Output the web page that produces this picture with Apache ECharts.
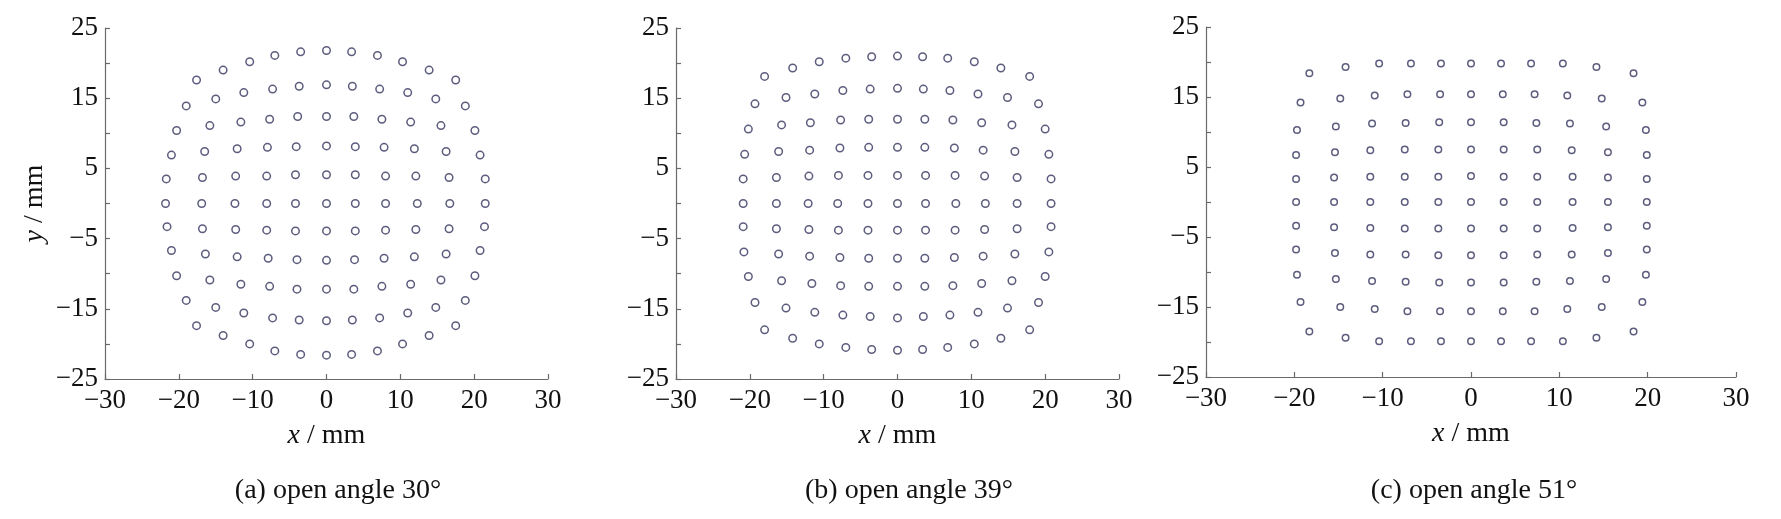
<!DOCTYPE html>
<html>
<head>
<meta charset="utf-8">
<script src="https://cdn.jsdelivr.net/npm/echarts@6/dist/echarts.min.js"></script>
<style>
html,body{margin:0;padding:0;background:#fff;}
#chart{width:1781px;height:519px;}
</style>
</head>
<body>
<div id="chart"></div>
<script>
// ---------- DATA (x, y in mm), read row by row from top to bottom ----------
const panelA_points = [
  [-17.6,17.6],[-14.0,19.0],[-10.4,20.2],[-7.0,21.1],[-3.5,21.6],[0,21.8],[3.4,21.6],[6.9,21.1],[10.3,20.2],[13.9,19.0],[17.5,17.6],
  [-19.0,13.9],[-15.0,14.9],[-11.2,15.8],[-7.3,16.3],[-3.7,16.7],[0,16.9],[3.5,16.7],[7.2,16.3],[11.0,15.8],[14.8,14.9],[18.8,13.9],
  [-20.3,10.4],[-15.8,11.1],[-11.6,11.6],[-7.7,12.0],[-3.9,12.4],[0,12.4],[3.7,12.4],[7.5,12.0],[11.4,11.6],[15.5,11.1],[20.1,10.4],
  [-21.0,6.9],[-16.5,7.4],[-12.1,7.8],[-8.0,8.0],[-4.1,8.1],[0,8.2],[3.9,8.1],[7.8,8.0],[11.9,7.8],[16.2,7.4],[20.8,6.9],
  [-21.7,3.5],[-16.8,3.7],[-12.3,3.9],[-8.1,3.9],[-4.2,4.1],[0,4.1],[3.9,4.1],[8.0,3.9],[12.1,3.9],[16.6,3.7],[21.5,3.5],
  [-21.8,0],[-16.9,0],[-12.4,0],[-8.1,0],[-4.2,0],[0,0],[3.9,0],[8.0,0],[12.3,0],[16.7,0],[21.5,0],
  [-21.6,-3.3],[-16.8,-3.6],[-12.3,-3.7],[-8.1,-3.8],[-4.2,-3.9],[0,-3.9],[3.9,-3.9],[8.0,-3.8],[12.1,-3.7],[16.6,-3.6],[21.4,-3.3],
  [-21.0,-6.7],[-16.4,-7.2],[-12.1,-7.6],[-7.9,-7.8],[-4.0,-8.0],[0,-8.1],[3.8,-8.0],[7.8,-7.8],[11.9,-7.6],[16.2,-7.2],[20.8,-6.7],
  [-20.3,-10.3],[-15.8,-10.9],[-11.6,-11.5],[-7.7,-11.8],[-4.0,-12.2],[0,-12.2],[3.7,-12.2],[7.5,-11.8],[11.4,-11.5],[15.5,-10.9],[20.1,-10.3],
  [-19.0,-13.8],[-15.0,-14.8],[-11.2,-15.6],[-7.3,-16.3],[-3.7,-16.6],[0,-16.7],[3.5,-16.6],[7.2,-16.3],[11.0,-15.6],[14.8,-14.8],[18.8,-13.8],
  [-17.6,-17.4],[-14.0,-18.8],[-10.4,-20.0],[-7.0,-21.0],[-3.5,-21.5],[0,-21.6],[3.4,-21.5],[6.9,-21.0],[10.3,-20.0],[13.9,-18.8],[17.5,-17.4]
];
const panelB_points = [
  [-18.0,18.1],[-14.2,19.3],[-10.6,20.2],[-7.0,20.7],[-3.5,20.9],[0,21.0],[3.4,20.9],[6.8,20.7],[10.4,20.2],[14.0,19.3],[17.9,18.1],
  [-19.3,14.2],[-15.1,15.1],[-11.2,15.6],[-7.4,16.1],[-3.7,16.3],[0,16.4],[3.5,16.3],[7.1,16.1],[10.9,15.6],[14.9,15.1],[19.1,14.2],
  [-20.2,10.6],[-15.7,11.2],[-11.8,11.5],[-7.7,11.9],[-3.9,12.0],[0,12.0],[3.7,12.0],[7.5,11.9],[11.4,11.5],[15.5,11.2],[20.0,10.6],
  [-20.7,7.0],[-16.1,7.4],[-11.9,7.6],[-7.8,7.9],[-3.9,8.0],[0,8.0],[3.7,8.0],[7.7,7.9],[11.6,7.6],[15.9,7.4],[20.5,7.0],
  [-20.9,3.5],[-16.4,3.7],[-12.0,3.9],[-8.0,4.0],[-4.0,4.0],[0,4.0],[3.8,4.0],[7.8,4.0],[11.8,3.9],[16.2,3.7],[20.8,3.5],
  [-20.9,0],[-16.4,0],[-12.1,0],[-8.1,0],[-4.0,0],[0,0],[3.8,0],[7.9,0],[11.9,0],[16.2,0],[20.8,0],
  [-20.9,-3.3],[-16.4,-3.6],[-12.0,-3.7],[-8.0,-3.8],[-4.0,-3.8],[0,-3.8],[3.8,-3.8],[7.8,-3.8],[11.8,-3.7],[16.2,-3.6],[20.8,-3.3],
  [-20.8,-6.9],[-16.1,-7.2],[-11.9,-7.5],[-7.8,-7.7],[-3.9,-7.8],[0,-7.8],[3.7,-7.8],[7.7,-7.7],[11.6,-7.5],[15.9,-7.2],[20.5,-6.9],
  [-20.2,-10.4],[-15.7,-11.0],[-11.6,-11.4],[-7.7,-11.7],[-3.9,-11.8],[0,-11.8],[3.7,-11.8],[7.5,-11.7],[11.4,-11.4],[15.5,-11.0],[20.0,-10.4],
  [-19.3,-14.1],[-15.1,-14.9],[-11.2,-15.5],[-7.4,-15.9],[-3.7,-16.1],[0,-16.3],[3.5,-16.1],[7.1,-15.9],[10.9,-15.5],[14.9,-14.9],[19.1,-14.1],
  [-18.0,-18.0],[-14.2,-19.2],[-10.6,-20.0],[-7.0,-20.5],[-3.5,-20.8],[0,-20.9],[3.4,-20.8],[6.8,-20.5],[10.4,-20.0],[14.0,-19.2],[17.9,-18.0]
];
const panelC_points = [
  [-18.3,18.4],[-14.2,19.3],[-10.4,19.8],[-6.8,19.8],[-3.4,19.8],[0,19.8],[3.4,19.8],[6.8,19.8],[10.4,19.8],[14.2,19.3],[18.4,18.4],
  [-19.3,14.2],[-14.8,14.8],[-10.9,15.2],[-7.2,15.4],[-3.5,15.4],[0,15.4],[3.6,15.4],[7.2,15.4],[10.9,15.2],[14.8,14.8],[19.4,14.2],
  [-19.7,10.3],[-15.3,10.8],[-11.2,11.2],[-7.4,11.3],[-3.6,11.4],[0,11.4],[3.7,11.4],[7.4,11.3],[11.2,11.2],[15.3,10.8],[19.8,10.3],
  [-19.8,6.7],[-15.4,7.1],[-11.4,7.4],[-7.5,7.5],[-3.7,7.5],[0,7.5],[3.7,7.5],[7.5,7.5],[11.4,7.4],[15.5,7.1],[19.9,6.7],
  [-19.8,3.3],[-15.5,3.5],[-11.4,3.6],[-7.5,3.6],[-3.7,3.6],[0,3.7],[3.7,3.6],[7.5,3.6],[11.5,3.6],[15.5,3.5],[19.9,3.3],
  [-19.8,0],[-15.5,0],[-11.4,0],[-7.5,0],[-3.7,0],[0,0],[3.7,0],[7.5,0],[11.5,0],[15.5,0],[19.9,0],
  [-19.8,-3.4],[-15.5,-3.6],[-11.4,-3.7],[-7.5,-3.8],[-3.7,-3.8],[0,-3.8],[3.7,-3.8],[7.5,-3.8],[11.5,-3.7],[15.5,-3.6],[19.9,-3.4],
  [-19.8,-6.8],[-15.4,-7.3],[-11.4,-7.5],[-7.4,-7.5],[-3.7,-7.6],[0,-7.6],[3.7,-7.6],[7.5,-7.5],[11.4,-7.5],[15.5,-7.3],[19.9,-6.8],
  [-19.7,-10.4],[-15.3,-11.0],[-11.2,-11.3],[-7.4,-11.4],[-3.6,-11.5],[0,-11.5],[3.7,-11.5],[7.4,-11.4],[11.2,-11.3],[15.3,-11.0],[19.8,-10.4],
  [-19.3,-14.3],[-14.8,-15.0],[-10.9,-15.3],[-7.2,-15.6],[-3.5,-15.6],[0,-15.6],[3.6,-15.6],[7.2,-15.6],[10.9,-15.3],[14.8,-15.0],[19.4,-14.3],
  [-18.3,-18.5],[-14.2,-19.4],[-10.4,-19.9],[-6.8,-19.9],[-3.4,-19.9],[0,-19.9],[3.4,-19.9],[6.8,-19.9],[10.4,-19.9],[14.2,-19.4],[18.4,-18.5]
];
const captions = ['(a) open angle 30°', '(b) open angle 39°', '(c) open angle 51°'];
const xTitle = 'x';
const yTitle = 'y';
const unitText = ' / mm';

// ---------- CHART ----------
const FONT = '"Liberation Serif", "Times New Roman", serif';
const AXIS_COLOR = '#6a6a6a';
const TEXT_COLOR = '#111111';
const MARK_COLOR = '#33335e';

function fmt(v) { return v < 0 ? '\u2212' + Math.abs(v) : String(v); }

const grids = [
  { left: 105, top: 28, width: 443, height: 351 },
  { left: 676, top: 28, width: 443, height: 351 },
  { left: 1206, top: 27, width: 530, height: 350 }
];

function xAxisCfg(i) {
  return {
    gridIndex: i, type: 'value', min: -30, max: 30, interval: 10,
    name: '{i|' + xTitle + '}' + unitText, nameLocation: 'middle', nameGap: 43,
    nameTextStyle: { fontFamily: FONT, fontSize: 28, color: TEXT_COLOR,
      rich: { i: { fontFamily: FONT, fontSize: 28, fontStyle: 'italic', color: TEXT_COLOR } } },
    axisLine: { onZero: false, lineStyle: { color: AXIS_COLOR, width: 1.2 } },
    axisTick: { inside: true, length: 5, lineStyle: { color: AXIS_COLOR, width: 1.2 } },
    axisLabel: { fontFamily: FONT, fontSize: 27, color: TEXT_COLOR, margin: 8, formatter: fmt },
    splitLine: { show: false }
  };
}
function yAxisCfg(i) {
  const cfg = {
    gridIndex: i, type: 'value', min: -25, max: 25, interval: 5,
    axisLine: { onZero: false, lineStyle: { color: AXIS_COLOR, width: 1.2 } },
    axisTick: { inside: true, length: 5, lineStyle: { color: AXIS_COLOR, width: 1.2 } },
    axisLabel: { fontFamily: FONT, fontSize: 27, color: TEXT_COLOR, margin: 7,
      formatter: v => (Math.abs(v) % 10 === 5 ? fmt(v) : '') },
    splitLine: { show: false }
  };
  if (i === 0) {
    cfg.name = '{i|' + yTitle + '}' + unitText;
    cfg.nameLocation = 'middle';
    cfg.nameGap = 56;
    cfg.nameTextStyle = { fontFamily: FONT, fontSize: 28, color: TEXT_COLOR,
      rich: { i: { fontFamily: FONT, fontSize: 28, fontStyle: 'italic', color: TEXT_COLOR } } };
  }
  return cfg;
}
function seriesCfg(i, data, size) {
  return {
    type: 'scatter', xAxisIndex: i, yAxisIndex: i, data: data,
    symbol: 'circle', symbolSize: size, silent: true, animation: false,
    itemStyle: { color: '#ffffff', borderColor: MARK_COLOR, borderWidth: 1.5 }
  };
}

const captionX = [338, 909, 1474];
const chart = echarts.init(document.getElementById('chart'), null, { renderer: 'canvas' });
chart.setOption({
  animation: false,
  backgroundColor: '#ffffff',
  grid: grids,
  xAxis: [0, 1, 2].map(xAxisCfg),
  yAxis: [0, 1, 2].map(yAxisCfg),
  series: [
    seriesCfg(0, panelA_points, 7.5),
    seriesCfg(1, panelB_points, 7.5),
    seriesCfg(2, panelC_points, 6.5)
  ],
  graphic: captions.map((t, k) => ({
    type: 'text', x: captionX[k], y: 491,
    style: { text: t, font: '28px ' + FONT, fill: TEXT_COLOR, textAlign: 'center', textVerticalAlign: 'middle' }
  }))
});
</script>
</body>
</html>
